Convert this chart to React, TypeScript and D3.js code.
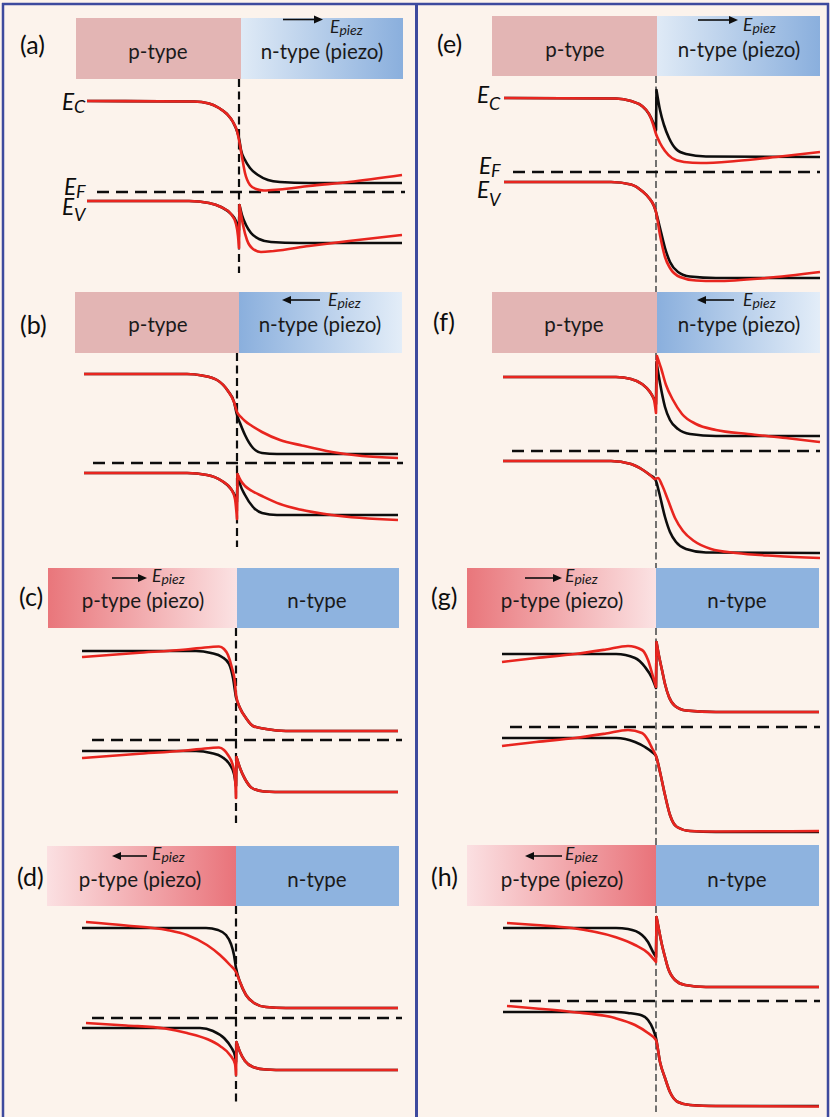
import React from 'react';
import * as d3 from 'd3';

// Band-edge profiles of a p-n heterojunction with and without piezoelectric polarisation.
// Each curve is a list of segments of [position from junction (nm), energy relative to E_F (eV)];
// consecutive segments are joined by a vertical step at the interface.
type Pt = [number, number];
type Curve = Pt[][];

const panelIds = ['a', 'b', 'c', 'd', 'e', 'f', 'g', 'h'];
const piezoLayer = ['n', 'n', 'p', 'p', 'n', 'n', 'p', 'p'];
const fieldDirection = [1, -1, 1, -1, 1, -1, 1, -1];

// ---- (a) ----
const ecA: Curve = [[[-152, 1.82], [-45, 1.81], [-30, 1.77], [-20, 1.68], [-12, 1.56], [-6, 1.4], [-2, 1.22], [0, 1.08], [2, 0.84], [6, 0.64], [11, 0.48], [19, 0.34], [29, 0.24], [41, 0.2], [70, 0.18], [163, 0.18]]];
const ecStrainA: Curve = [[[-152, 1.82], [-45, 1.81], [-30, 1.77], [-20, 1.68], [-12, 1.56], [-6, 1.4], [-2, 1.22], [0, 1.04], [3, 0.7], [6, 0.38], [11, 0.14], [17, 0.06], [25, 0.03], [40, 0.05], [70, 0.12], [110, 0.2], [163, 0.34]]];
const evA: Curve = [
  [[-152, -0.18], [-50, -0.18], [-30, -0.22], [-18, -0.3], [-8, -0.44], [-3, -0.58], [0, -0.76]],
  [[0.5, -0.26], [3, -0.46], [7, -0.66], [12, -0.82], [20, -0.94], [32, -1.0], [60, -1.02], [163, -1.02]],
];
const evStrainA: Curve = [
  [[-152, -0.18], [-50, -0.18], [-30, -0.22], [-18, -0.3], [-8, -0.44], [-3, -0.64], [-1, -0.88], [0, -1.12]],
  [[0.5, -0.26], [4, -0.66], [8, -0.96], [14, -1.14], [22, -1.2], [35, -1.18], [70, -1.08], [110, -0.98], [163, -0.86]],
];

// ---- (b) ----
const ecB: Curve = [[[-153, 1.78], [-50, 1.78], [-35, 1.75], [-20, 1.66], [-9, 1.44], [-3, 1.22], [0, 0.96], [3, 0.8], [8, 0.56], [16, 0.3], [25, 0.2], [40, 0.18], [161, 0.18]]];
const ecStrainB: Curve = [[[-153, 1.78], [-50, 1.78], [-35, 1.75], [-20, 1.66], [-9, 1.44], [-3, 1.22], [0, 1.02], [4, 0.92], [8, 0.84], [15, 0.74], [25, 0.62], [43, 0.46], [65, 0.35], [95, 0.22], [125, 0.14], [161, 0.1]]];
const evB: Curve = [
  [[-153, -0.2], [-50, -0.2], [-30, -0.24], [-15, -0.36], [-6, -0.52], [-2, -0.66], [0, -0.78]],
  [[0.5, -0.22], [3, -0.42], [8, -0.64], [16, -0.88], [25, -1.0], [40, -1.04], [161, -1.04]],
];
const evStrainB: Curve = [
  [[-153, -0.2], [-50, -0.2], [-30, -0.24], [-15, -0.36], [-6, -0.52], [-2, -0.72], [0, -1.12]],
  [[0.5, -0.22], [4, -0.36], [8, -0.46], [15, -0.56], [25, -0.66], [43, -0.82], [63, -0.93], [95, -1.04], [161, -1.14]],
];

// ---- (c) ----
const ecC: Curve = [[[-154, 1.78], [-40, 1.78], [-25, 1.74], [-14, 1.66], [-7, 1.52], [-3, 1.24], [0, 0.86], [4, 0.64], [10, 0.44], [17, 0.28], [30, 0.22], [50, 0.18], [162, 0.18]]];
const ecStrainC: Curve = [[[-154, 1.66], [-100, 1.74], [-50, 1.81], [-25, 1.86], [-17, 1.87], [-12, 1.82], [-8, 1.7], [-4, 1.44], [-1, 1.14], [0, 0.9], [4, 0.64], [10, 0.44], [17, 0.28], [30, 0.22], [50, 0.18], [162, 0.18]]];
const evC: Curve = [
  [[-154, -0.22], [-40, -0.22], [-25, -0.26], [-14, -0.34], [-6, -0.5], [-2, -0.68], [0, -0.92]],
  [[0.5, -0.34], [4, -0.56], [9, -0.78], [16, -0.96], [28, -1.03], [50, -1.04], [162, -1.04]],
];
const evStrainC: Curve = [
  [[-154, -0.36], [-100, -0.28], [-50, -0.21], [-25, -0.16], [-17, -0.15], [-12, -0.2], [-8, -0.3], [-3, -0.52], [-1, -0.76], [0, -1.16]],
  [[0.5, -0.34], [4, -0.56], [9, -0.78], [16, -0.96], [28, -1.03], [50, -1.04], [162, -1.04]],
];

// ---- (d) ----
const ecD: Curve = [[[-154, 1.8], [-30, 1.8], [-18, 1.76], [-10, 1.66], [-5, 1.48], [-2, 1.26], [0, 1.0], [4, 0.72], [10, 0.46], [18, 0.3], [30, 0.22], [50, 0.2], [162, 0.2]]];
const ecStrainD: Curve = [[[-150, 1.92], [-110, 1.85], [-69, 1.76], [-49, 1.66], [-29, 1.46], [-16, 1.26], [-6, 1.06], [0, 0.92], [4, 0.72], [10, 0.46], [18, 0.3], [30, 0.22], [50, 0.2], [162, 0.2]]];
const evD: Curve = [
  [[-154, -0.2], [-36, -0.2], [-23, -0.26], [-12, -0.4], [-5, -0.58], [-1, -0.76], [0, -0.88]],
  [[0.5, -0.48], [4, -0.68], [9, -0.86], [17, -0.98], [30, -1.03], [50, -1.04], [162, -1.04]],
];
const evStrainD: Curve = [
  [[-150, -0.1], [-110, -0.15], [-71, -0.21], [-49, -0.3], [-29, -0.42], [-16, -0.56], [-6, -0.74], [-1, -0.92], [0, -1.14]],
  [[0.5, -0.48], [4, -0.68], [9, -0.86], [17, -0.98], [30, -1.03], [50, -1.04], [162, -1.04]],
];

// ---- (e) ----
const ecE: Curve = [
  [[-152, 1.48], [-40, 1.47], [-25, 1.42], [-14, 1.32], [-7, 1.16], [-3, 1.0], [0, 0.84]],
  [[0.5, 1.64], [4, 1.24], [8, 0.94], [13, 0.68], [20, 0.46], [30, 0.36], [50, 0.31], [164, 0.3]],
];
const ecStrainE: Curve = [[[-152, 1.48], [-40, 1.47], [-25, 1.42], [-14, 1.32], [-7, 1.16], [-3, 0.96], [0, 0.76], [4, 0.58], [9, 0.42], [16, 0.28], [28, 0.2], [45, 0.18], [80, 0.22], [120, 0.3], [164, 0.4]]];
const evE: Curve = [[[-152, -0.2], [-45, -0.2], [-25, -0.25], [-14, -0.38], [-7, -0.52], [-2, -0.68], [0, -0.8], [4, -1.12], [9, -1.52], [14, -1.8], [22, -2.0], [34, -2.09], [60, -2.12], [164, -2.12]]];
const evStrainE: Curve = [[[-152, -0.2], [-45, -0.2], [-25, -0.25], [-14, -0.38], [-7, -0.52], [-2, -0.68], [0, -0.8], [4, -1.26], [9, -1.7], [14, -1.92], [24, -2.1], [40, -2.17], [60, -2.18], [110, -2.12], [164, -2.0]]];

// ---- (f) ----
const ecF: Curve = [
  [[-153, 1.48], [-40, 1.48], [-25, 1.44], [-14, 1.34], [-6, 1.18], [-2, 1.04], [0, 0.94]],
  [[0.5, 1.78], [4, 1.36], [9, 0.88], [14, 0.62], [22, 0.44], [34, 0.34], [60, 0.3], [164, 0.3]],
];
const ecStrainF: Curve = [
  [[-153, 1.48], [-40, 1.48], [-25, 1.44], [-14, 1.34], [-6, 1.18], [-2, 1.02], [0, 0.76]],
  [[1, 1.9], [5, 1.66], [10, 1.32], [17, 1.02], [26, 0.74], [40, 0.54], [60, 0.42], [92, 0.34], [130, 0.26], [164, 0.18]],
];
const evF: Curve = [[[-153, -0.2], [-45, -0.2], [-25, -0.26], [-13, -0.38], [-6, -0.48], [-1, -0.56], [0, -0.6], [3, -0.82], [9, -1.32], [14, -1.62], [20, -1.82], [30, -1.96], [50, -2.03], [164, -2.04]]];
const evStrainF: Curve = [[[-153, -0.2], [-45, -0.2], [-25, -0.26], [-13, -0.38], [-6, -0.48], [-1, -0.56], [2, -0.54], [6, -0.68], [12, -0.98], [19, -1.34], [27, -1.6], [38, -1.8], [55, -1.96], [80, -2.04], [120, -2.1], [164, -2.14]]];

// ---- (g) ----
const ecG: Curve = [
  [[-154, 1.46], [-40, 1.46], [-21, 1.38], [-11, 1.2], [-4, 0.98], [0, 0.78]],
  [[0.5, 1.7], [3, 1.42], [6, 1.14], [9, 0.86], [13, 0.6], [19, 0.42], [30, 0.33], [60, 0.3], [163, 0.3]],
];
const ecStrainG: Curve = [
  [[-154, 1.3], [-120, 1.38], [-81, 1.46], [-50, 1.55], [-28, 1.62], [-14, 1.54], [-8, 1.34], [-4, 1.08], [0, 0.8]],
  [[0.5, 1.7], [3, 1.42], [6, 1.14], [9, 0.86], [13, 0.6], [19, 0.42], [30, 0.33], [60, 0.3], [163, 0.3]],
];
const evG: Curve = [[[-154, -0.22], [-40, -0.22], [-21, -0.3], [-11, -0.4], [-4, -0.5], [0, -0.58], [4, -0.9], [9, -1.36], [14, -1.76], [21, -2.0], [34, -2.08], [60, -2.1], [163, -2.1]]];
const evStrainG: Curve = [[[-154, -0.38], [-120, -0.3], [-81, -0.22], [-50, -0.13], [-28, -0.06], [-14, -0.12], [-8, -0.26], [-4, -0.42], [0, -0.58], [4, -0.9], [9, -1.36], [14, -1.76], [21, -2.0], [34, -2.08], [60, -2.09], [163, -2.08]]];

// ---- (h) ----
const ecH: Curve = [
  [[-153, 1.46], [-40, 1.46], [-28, 1.44], [-14, 1.32], [-8, 1.18], [-3, 0.98], [0, 0.88]],
  [[0.5, 1.68], [3, 1.42], [6, 1.12], [9, 0.88], [12, 0.66], [19, 0.42], [29, 0.32], [50, 0.28], [163, 0.28]],
];
const ecStrainH: Curve = [
  [[-149, 1.56], [-120, 1.52], [-84, 1.46], [-41, 1.28], [-21, 1.12], [-8, 0.96], [0, 0.78]],
  [[0.5, 1.68], [3, 1.42], [6, 1.12], [9, 0.88], [12, 0.66], [19, 0.42], [29, 0.32], [50, 0.28], [163, 0.28]],
];
const evH: Curve = [[[-153, -0.22], [-40, -0.22], [-28, -0.24], [-14, -0.29], [-8, -0.38], [-3, -0.56], [0, -0.74], [4, -1.22], [9, -1.54], [14, -1.82], [22, -2.02], [34, -2.08], [60, -2.1], [163, -2.1]]];
const evStrainH: Curve = [[[-149, -0.1], [-120, -0.15], [-84, -0.22], [-41, -0.34], [-21, -0.48], [-8, -0.64], [0, -0.78], [4, -1.22], [9, -1.54], [14, -1.82], [22, -2.02], [34, -2.08], [60, -2.1], [163, -2.11]]];

const conduction = [ecA, ecB, ecC, ecD, ecE, ecF, ecG, ecH];
const conductionStrained = [ecStrainA, ecStrainB, ecStrainC, ecStrainD, ecStrainE, ecStrainF, ecStrainG, ecStrainH];
const valence = [evA, evB, evC, evD, evE, evF, evG, evH];
const valenceStrained = [evStrainA, evStrainB, evStrainC, evStrainD, evStrainE, evStrainF, evStrainG, evStrainH];

// Fermi-level extent (nm from junction)
const fermiSpan: [number, number][] = [[-142, 166], [-144, 166], [-144, 166], [-144, 166], [-143, 164], [-144, 164], [-146, 164], [-146, 164]];

// ---- layout (pixels) ----
interface Frame {
  xJ: number; yEF: number; top: number; bottom: number; pL: number; split: number; nR: number;
  labelX: number; labelY: number; textY: number; pCx: number; nCx: number;
  ax1: number; ax2: number; ay: number; eX: number; eY: number; vTop: number; vBottom: number; col: number;
}
const frames: Frame[] = [
  { xJ: 239, yEF: 192, top: 18, bottom: 79, pL: 76, split: 241, nR: 403, labelX: 20, labelY: 54, textY: 59, pCx: 158, nCx: 322, ax1: 283, ax2: 323, ay: 19.5, eX: 330, eY: 33, vTop: 79, vBottom: 273, col: 0 },
  { xJ: 237, yEF: 463, top: 292, bottom: 353, pL: 75, split: 239, nR: 402, labelX: 20, labelY: 334, textY: 332, pCx: 158, nCx: 320, ax1: 282, ax2: 320, ay: 300, eX: 328, eY: 306, vTop: 353, vBottom: 547, col: 0 },
  { xJ: 236, yEF: 740, top: 568, bottom: 628, pL: 48, split: 237, nR: 399, labelX: 19, labelY: 606, textY: 608, pCx: 143, nCx: 317, ax1: 112, ax2: 147, ay: 578, eX: 152, eY: 582, vTop: 628, vBottom: 823, col: 0 },
  { xJ: 236, yEF: 1018, top: 846, bottom: 906, pL: 47, split: 236, nR: 399, labelX: 17, labelY: 886, textY: 887, pCx: 140, nCx: 317, ax1: 112, ax2: 147, ay: 856, eX: 152, eY: 860, vTop: 906, vBottom: 1102, col: 0 },
  { xJ: 656, yEF: 172, top: 16, bottom: 76, pL: 492, split: 657, nR: 820, labelX: 437, labelY: 53, textY: 57, pCx: 575, nCx: 739, ax1: 698, ax2: 738, ay: 20, eX: 743, eY: 31, vTop: 76, vBottom: 292, col: 1 },
  { xJ: 656, yEF: 451, top: 292, bottom: 353, pL: 492, split: 657, nR: 820, labelX: 433, labelY: 331, textY: 332, pCx: 574, nCx: 739, ax1: 697, ax2: 734, ay: 300, eX: 743, eY: 306, vTop: 353, vBottom: 568, col: 1 },
  { xJ: 656, yEF: 727, top: 568, bottom: 628, pL: 467, split: 656, nR: 819, labelX: 431, labelY: 606, textY: 608, pCx: 562, nCx: 737, ax1: 525, ax2: 562, ay: 578, eX: 565, eY: 582, vTop: 628, vBottom: 845, col: 1 },
  { xJ: 656, yEF: 1001, top: 845, bottom: 906, pL: 467, split: 656, nR: 819, labelX: 431, labelY: 886, textY: 887, pCx: 562, nCx: 737, ax1: 525, ax2: 562, ay: 856, eX: 565, eY: 860, vTop: 906, vBottom: 1112, col: 1 },
];

const PX_PER_EV = 50;
const FONT = "Lato, 'Open Sans', 'Liberation Sans', sans-serif";
const BG = '#fcf3ec';
const BORDER = '#3d4a9e';
const P_PLAIN = '#e3b5b4';
const N_PLAIN = '#8eb3df';
const RED = '#e8251f';
const INK = '#0d0d0d';
const TEXT = '#1a1a1a';

function BandLabel({ x, y, sub, subDy }: { x: number; y: number; sub: string; subDy: number }) {
  return (
    <text x={x} y={y} fontFamily={FONT} fontStyle="italic" fontSize={22.5} fill={INK}>
      E<tspan fontSize={18} dy={subDy}>{sub}</tspan>
    </text>
  );
}

function Panel({ i }: { i: number }) {
  const f = frames[i];
  const x = d3.scaleLinear().domain([-200, 200]).range([f.xJ - 200, f.xJ + 200]);
  const y = d3.scaleLinear().domain([0, 1]).range([f.yEF, f.yEF - PX_PER_EV]);
  const gen = d3.line<Pt>().x(d => x(d[0])).y(d => y(d[1])).curve(d3.curveMonotoneX);
  const toPath = (c: Curve) =>
    c.map((seg, k) => {
      const s = gen(seg) || '';
      return k === 0 ? s : 'L' + s.slice(1);
    }).join('');

  const dir = fieldDirection[i];
  const piezo = piezoLayer[i];
  const pFill = piezo === 'p' ? (dir > 0 ? 'url(#pStrongLeft)' : 'url(#pStrongRight)') : P_PLAIN;
  const nFill = piezo === 'n' ? (dir > 0 ? 'url(#nDarkRight)' : 'url(#nDarkLeft)') : N_PLAIN;
  const pText = piezo === 'p' ? 'p-type (piezo)' : 'p-type';
  const nText = piezo === 'n' ? 'n-type (piezo)' : 'n-type';

  const head = 9;
  const arrowLine = dir > 0 ? [f.ax1, f.ax2 - head + 1] : [f.ax1 + head - 1, f.ax2];
  const tip = dir > 0 ? f.ax2 : f.ax1;
  const back = dir > 0 ? f.ax2 - head : f.ax1 + head;

  const vStyle = f.col === 0
    ? { stroke: INK, strokeWidth: 2.2, strokeDasharray: '8,4.5' }
    : { stroke: '#5a5a5a', strokeWidth: 1.7, strokeDasharray: '7,3.5' };

  const [fa, fb] = fermiSpan[i];

  return (
    <g>
      <rect x={f.pL} y={f.top} width={f.split - f.pL} height={f.bottom - f.top} fill={pFill} />
      <rect x={f.split} y={f.top} width={f.nR - f.split} height={f.bottom - f.top} fill={nFill} />
      <text x={f.pCx} y={f.textY} textAnchor="middle" fontFamily={FONT} fontSize={20.5} fill={TEXT}>{pText}</text>
      <text x={f.nCx} y={f.textY} textAnchor="middle" fontFamily={FONT} fontSize={20.5} fill={TEXT}>{nText}</text>
      <line x1={arrowLine[0]} x2={arrowLine[1]} y1={f.ay} y2={f.ay} stroke={INK} strokeWidth={1.6} />
      <polygon points={`${tip},${f.ay} ${back},${f.ay - 4} ${back},${f.ay + 4}`} fill={INK} />
      <text x={f.eX} y={f.eY} fontFamily={FONT} fontStyle="italic" fontSize={17.5} fill={TEXT}>
        E<tspan fontSize={14} dy={2}>piez</tspan>
      </text>
      <text x={f.labelX} y={f.labelY} fontFamily={FONT} fontSize={25} fill={INK}>({panelIds[i]})</text>

      <line x1={f.xJ} x2={f.xJ} y1={f.vTop} y2={f.vBottom} {...vStyle} />
      <line x1={x(fa)} x2={x(fb)} y1={y(0)} y2={y(0)} stroke={INK} strokeWidth={2.4} strokeDasharray="12,7" />

      <path d={toPath(conduction[i])} fill="none" stroke={INK} strokeWidth={2.6} strokeLinejoin="round" />
      <path d={toPath(valence[i])} fill="none" stroke={INK} strokeWidth={2.6} strokeLinejoin="round" />
      <path d={toPath(conductionStrained[i])} fill="none" stroke={RED} strokeWidth={2.6} strokeLinejoin="round" />
      <path d={toPath(valenceStrained[i])} fill="none" stroke={RED} strokeWidth={2.6} strokeLinejoin="round" />
    </g>
  );
}

export default function App() {
  const W = 830;
  const H = 1117;
  return (
    <svg width={W} height={H} viewBox={`0 0 ${W} ${H}`} style={{ position: 'absolute', left: 0, top: 0, display: 'block' }}>
      <defs>
        <linearGradient id="nDarkRight" x1="0" x2="1" y1="0" y2="0">
          <stop offset="0" stopColor="#dfeaf6" />
          <stop offset="1" stopColor="#8aafdd" />
        </linearGradient>
        <linearGradient id="nDarkLeft" x1="0" x2="1" y1="0" y2="0">
          <stop offset="0" stopColor="#8aafdd" />
          <stop offset="1" stopColor="#e3edf8" />
        </linearGradient>
        <linearGradient id="pStrongLeft" x1="0" x2="1" y1="0" y2="0">
          <stop offset="0" stopColor="#e9767b" />
          <stop offset="1" stopColor="#fbe2e3" />
        </linearGradient>
        <linearGradient id="pStrongRight" x1="0" x2="1" y1="0" y2="0">
          <stop offset="0" stopColor="#fbe0e2" />
          <stop offset="1" stopColor="#e9737a" />
        </linearGradient>
      </defs>
      <rect x={0} y={0} width={W} height={H} fill={BG} />

      {panelIds.map((id, i) => <Panel key={id} i={i} />)}

      <BandLabel x={62} y={110} sub="C" subDy={3} />
      <BandLabel x={64} y={195} sub="F" subDy={3} />
      <BandLabel x={62} y={215} sub="V" subDy={6} />
      <BandLabel x={477} y={103} sub="C" subDy={7} />
      <BandLabel x={479} y={174} sub="F" subDy={3} />
      <BandLabel x={477} y={198} sub="V" subDy={8} />

      <line x1={3} x2={3} y1={3} y2={H} stroke={BORDER} strokeWidth={2.5} />
      <line x1={2} x2={829} y1={4} y2={4} stroke={BORDER} strokeWidth={2.5} />
      <line x1={828} x2={828} y1={3} y2={H} stroke={BORDER} strokeWidth={2.5} />
      <line x1={416.5} x2={416.5} y1={3} y2={H} stroke={BORDER} strokeWidth={3} />
    </svg>
  );
}
